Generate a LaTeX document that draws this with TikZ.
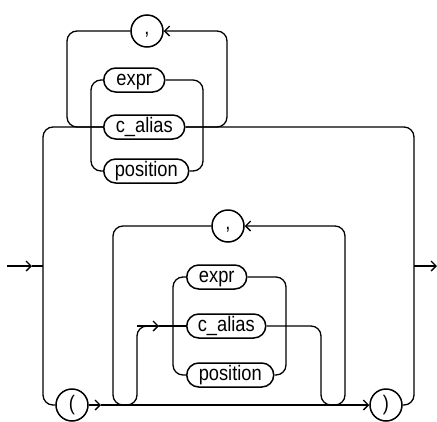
\documentclass[tikz,border=0pt]{standalone}
\usepackage{fontspec}
\setmainfont{Liberation Sans}
\newfontfamily\railfont[FakeStretch=0.87]{Liberation Sans}
\usetikzlibrary{arrows.meta}
\begin{document}
\begin{tikzpicture}[x=1pt,y=-1pt,line width=1.3pt,
  rc/.style={rounded corners=10pt},
  arr/.style={-{Straight Barb[length=5pt,width=10pt]}},
  term/.style={draw, line width=1.5pt, rectangle, rounded corners=12pt, minimum height=24pt, inner xsep=0pt, inner ysep=1pt,
    text height=15pt, text depth=4pt, font=\railfont\fontsize{21}{24}\selectfont, anchor=west},
  sym/.style={draw, line width=1.5pt, circle, minimum size=32pt, inner sep=0pt, font=\railfont\fontsize{21}{24}\selectfont},
  comma/.style={sym, text height=10pt, text depth=4pt}]
\useasboundingbox (0,0) rectangle (437,421);
% top group
\node[term, minimum width=61pt] (eT) at (103,80) {expr};
\node[term, minimum width=81pt] (cT) at (103,127) {c\_alias};
\node[term, minimum width=85pt] (pT) at (103,171) {position};
\node[comma] (cmT) at (147,31) {,};
% parentheses
\node[sym] (lp) at (72,405) {(};
\node[sym] (rp) at (386,405) {)};
% bottom group
\node[comma] (cmB) at (228,226) {,};
\node[term, minimum width=60pt] (eB) at (186,277) {expr};
\node[term, minimum width=79pt] (cB) at (186,326) {c\_alias};
\node[term, minimum width=87pt] (pB) at (186,375) {position};
% coordinates
\coordinate (E0) at (7,266);
\coordinate (E1) at (32,266);
\coordinate (EL) at (43,266);
\coordinate (XR) at (414,266);
\coordinate (X1) at (437,266);
\coordinate (A1) at (101,405);
\coordinate (A2) at (159,326);
\coordinate (U1) at (125,405);
\coordinate (U2) at (333,405);
% entry / exit
\draw[arr] (E0) -- (E1);
\draw (E1) -- (EL);
\draw[arr] (XR) -- (X1);
% main left / right
\draw[rc] (cT.west) -| (43,405) -- (lp.west);
\draw[rc] (cT.east) -| (414,405) -- (rp.east);
% top loop
\draw[rc,arr] (cT.east) -| (227,31) -- (cmT.east);
\draw[rc] (cmT.west) -| (67,127) -- (cT.west);
% top choice
\draw[rc] (eT.west) -| (91,171) -- (pT.west);
\draw[rc] (eT.east) -| (203,171) -- (pT.east);
% bottom main line
\draw[arr] (lp.east) -- (A1);
\draw[arr] (A1) -- (rp.west);
% bottom item
\draw[rc] (U1) -| (137,326) -- (A2);
\draw[arr] (137,326) -- (A2);
\draw (A2) -- (cB.west);
\draw[rc] (eB.west) -| (173,375) -- (pB.west);
\draw[rc] (eB.east) -| (286,375) -- (pB.east);
\draw[rc] (cB.east) -| (321,405) -- (U2);
% bottom loop
\draw[rc,arr] (321,405) -| (345,226) -- (cmB.east);
\draw[rc] (cmB.west) -| (113,405) -- (U1);
\end{tikzpicture}
\end{document}
